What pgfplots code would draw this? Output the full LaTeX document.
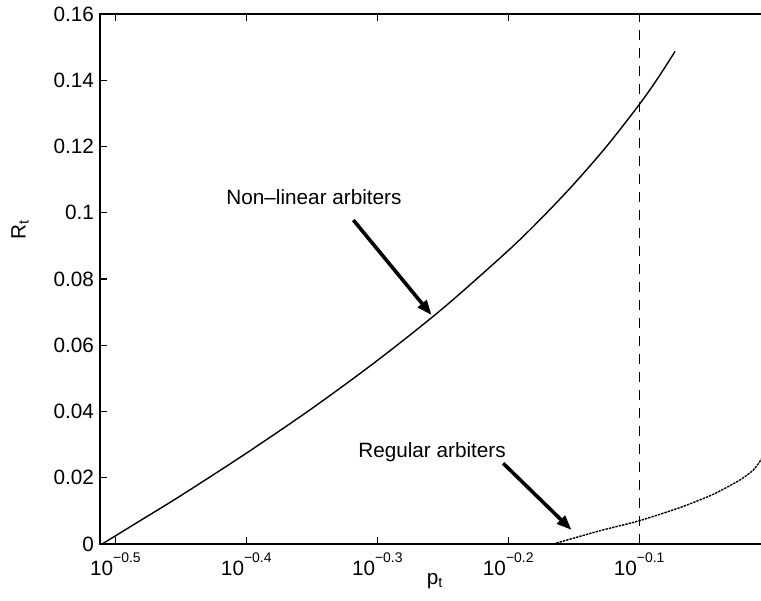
\documentclass[border=0pt]{standalone}
\usepackage{pgfplots}
\pgfplotsset{compat=1.18}
\usepackage{fontspec}
\setmainfont{Liberation Sans}
\usetikzlibrary{arrows.meta}

\newcommand{\lbl}{\fontsize{10.4}{12}\selectfont}
\newcommand{\dec}[1]{10\raisebox{6.3bp}{\fontsize{7}{8}\selectfont −#1}}

\begin{document}
\begin{tikzpicture}
\path[use as bounding box] (-50bp,-28.5bp) rectangle (330.5bp,272bp);
\begin{axis}[
  at={(0,0)}, anchor=south west,
  scale only axis, width=334.5bp, height=265bp,
  xmode=log, log basis x=10,
  xmin=0.30780, xmax=0.99794,
  ymin=0, ymax=0.16,
  xtick={0.316228,0.398107,0.501187,0.630957,0.794328},
  xticklabels={\dec{0.5},\dec{0.4},\dec{0.3},\dec{0.2},\dec{0.1}},
  xminorticks=false,
  ytick={0,0.02,0.04,0.06,0.08,0.1,0.12,0.14,0.16},
  scaled y ticks=false,
  yticklabel style={/pgf/number format/fixed,/pgf/number format/precision=2},
  /pgf/number format/assume math mode=true,
  tick label style={font=\lbl},
  xticklabel style={yshift=-1bp},
  yticklabel style={xshift=0.5bp},
  tick align=inside, xtick pos=both, ytick pos=left,
  major tick length=3.3bp,
  every tick/.style={black, line width=0.6bp},
  separate axis lines,
  axis line style={draw=none},
  clip=false,
  xlabel={p\textsubscript{t}}, ylabel={R\textsubscript{t}},
  xlabel style={font=\lbl, at={(rel axis cs:0.501,0)}, anchor=north, yshift=-14.5bp, inner sep=0pt},
  ylabel style={font=\lbl, at={(rel axis cs:-0.1196,0.594)}, anchor=center},
]
% frame: left, bottom and top edges
\draw[line width=1bp] (rel axis cs:1,1) -- (rel axis cs:0,1) -- (rel axis cs:0,0) -- (rel axis cs:1,0);

% non-linear arbiters
\addplot[black, line width=0.7bp, smooth, tension=0.5] coordinates {
  (0.3090,0) (0.3311,0.0073) (0.3548,0.0146) (0.3981,0.0274)
  (0.4467,0.0409) (0.5012,0.0554) (0.5623,0.0711) (0.6310,0.0886)
  (0.6683,0.0982) (0.7079,0.1086) (0.7499,0.1200) (0.7943,0.1326)
  (0.8204,0.1405) (0.8460,0.1487)
};

% regular arbiters
\addplot[black, line width=0.7bp, dash pattern=on 1.2bp off 0.5bp, smooth, tension=0.4] coordinates {
  (0.6828,0) (0.7413,0.0040) (0.7943,0.0070) (0.8534,0.0110)
  (0.9048,0.0150) (0.9480,0.0193) (0.9705,0.0223) (0.9838,0.0254)
  (0.9910,0.0285)
};

% threshold at p = 10^{-0.1}
\addplot[black, line width=0.6bp, dash pattern=on 5bp off 4bp] coordinates {
  (0.794328,0) (0.794328,0.16)
};

\node[font=\lbl] at (axis cs:0.4484,0.1048) {Non–linear arbiters};
\draw[line width=1.8bp, -{Triangle[length=7.5bp,width=5.5bp]}]
  (axis cs:0.4805,0.0978) -- (axis cs:0.5514,0.0691);

\node[font=\lbl] at (axis cs:0.5518,0.02768) {Regular arbiters};
\draw[line width=1.8bp, -{Triangle[length=7.5bp,width=5.5bp]}]
  (axis cs:0.6254,0.02436) -- (axis cs:0.7053,0.00423);
\end{axis}
\end{tikzpicture}
\end{document}
